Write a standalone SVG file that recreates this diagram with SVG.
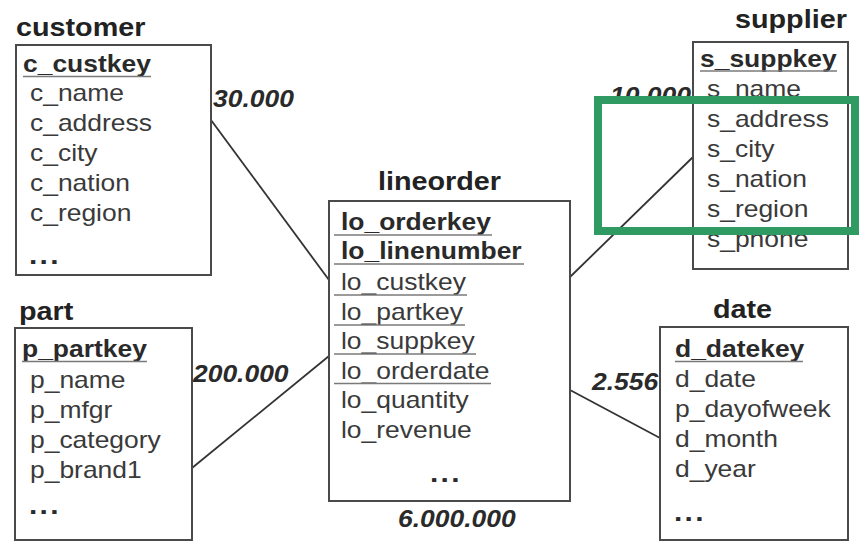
<svg xmlns="http://www.w3.org/2000/svg" width="866" height="549" viewBox="0 0 866 549">
<defs>
<style>
.box{fill:#fff;stroke:#4a4a4a;stroke-width:2}
.t{font-family:"Liberation Sans",Arial,sans-serif;font-weight:bold;font-size:25px;fill:#222}
.k{font-family:"Liberation Sans",Arial,sans-serif;font-weight:bold;font-size:23px;fill:#2a2a2a}
.a{font-family:"Liberation Sans",Arial,sans-serif;font-size:23px;fill:#3a3a3a}
.d{font-family:"Liberation Sans",Arial,sans-serif;font-weight:bold;font-size:26px;fill:#2a2a2a;letter-spacing:2px}
.n{font-family:"Liberation Sans",Arial,sans-serif;font-weight:bold;font-style:italic;font-size:23px;fill:#2a2a2a}
.u{stroke:#7a7a7a;stroke-width:1.6}
.c{stroke:#333;stroke-width:1.8;fill:none}
</style>
<clipPath id="cut10"><rect x="590" y="60" width="110" height="40"/></clipPath>
</defs>
<rect width="866" height="549" fill="#fff"/>

<g id="connectors">
<line class="c" x1="211" y1="120" x2="329" y2="280"/>
<line class="c" x1="192" y1="468" x2="329" y2="356"/>
<line class="c" x1="570" y1="277" x2="693" y2="157"/>
<line class="c" x1="570" y1="390" x2="660" y2="438"/>
</g>

<g id="labels">
<text class="n" transform="translate(213,107) scale(1.15,1)">30.000</text>
<text class="n" transform="translate(193,382) scale(1.15,1)">200.000</text>
<text class="n" transform="translate(592,390) scale(1.15,1)">2.556</text>
<text class="n" transform="translate(398,527) scale(1.15,1)">6.000.000</text>
<g clip-path="url(#cut10)"><text class="n" transform="translate(610,104) scale(1.15,1)">10.000</text></g>
</g>

<g id="customer">
<text class="t" transform="translate(16,36) scale(1.15,1)">customer</text>
<rect class="box" x="16" y="45" width="195" height="230"/>
<text class="k" transform="translate(23,72) scale(1.15,1)">c_custkey</text>
<line class="u" x1="23" y1="76.5" x2="151" y2="76.5"/>
<text class="a" transform="translate(30,101) scale(1.15,1)">c_name</text>
<text class="a" transform="translate(30,131) scale(1.15,1)">c_address</text>
<text class="a" transform="translate(30,161) scale(1.15,1)">c_city</text>
<text class="a" transform="translate(30,191) scale(1.15,1)">c_nation</text>
<text class="a" transform="translate(30,221) scale(1.15,1)">c_region</text>
<text class="d" transform="translate(29,264) scale(1.15,1)">...</text>
</g>

<g id="part">
<text class="t" transform="translate(19,320) scale(1.15,1)">part</text>
<rect class="box" x="15" y="328" width="177" height="212"/>
<text class="k" transform="translate(22,357) scale(1.15,1)">p_partkey</text>
<line class="u" x1="22" y1="361.5" x2="147" y2="361.5"/>
<text class="a" transform="translate(30,388) scale(1.15,1)">p_name</text>
<text class="a" transform="translate(30,418) scale(1.15,1)">p_mfgr</text>
<text class="a" transform="translate(30,448) scale(1.15,1)">p_category</text>
<text class="a" transform="translate(30,478) scale(1.15,1)">p_brand1</text>
<text class="d" transform="translate(29,514) scale(1.15,1)">...</text>
</g>

<g id="lineorder">
<text class="t" transform="translate(378,190) scale(1.15,1)">lineorder</text>
<rect class="box" x="329" y="201" width="241" height="300"/>
<text class="k" transform="translate(341,230) scale(1.15,1)">lo_orderkey</text>
<line class="u" x1="334" y1="235" x2="492" y2="235"/>
<text class="k" transform="translate(341,259) scale(1.15,1)">lo_linenumber</text>
<line class="u" x1="334" y1="264" x2="524" y2="264"/>
<text class="a" transform="translate(341,290) scale(1.15,1)">lo_custkey</text>
<line class="u" x1="334" y1="295" x2="467" y2="295"/>
<text class="a" transform="translate(341,320) scale(1.15,1)">lo_partkey</text>
<line class="u" x1="334" y1="325" x2="465" y2="325"/>
<text class="a" transform="translate(341,349) scale(1.15,1)">lo_suppkey</text>
<line class="u" x1="334" y1="354" x2="476" y2="354"/>
<text class="a" transform="translate(341,379) scale(1.15,1)">lo_orderdate</text>
<line class="u" x1="334" y1="383.5" x2="491" y2="383.5"/>
<text class="a" transform="translate(341,408) scale(1.15,1)">lo_quantity</text>
<text class="a" transform="translate(341,438) scale(1.15,1)">lo_revenue</text>
<text class="d" transform="translate(430,482) scale(1.15,1)">...</text>
</g>

<g id="supplier">
<text class="t" transform="translate(735,28) scale(1.15,1)">supplier</text>
<rect class="box" x="693" y="42" width="155" height="227"/>
<text class="k" transform="translate(700,67) scale(1.15,1)">s_suppkey</text>
<line class="u" x1="700" y1="71" x2="837" y2="71"/>
<text class="a" transform="translate(707,97) scale(1.15,1)">s_name</text>
<text class="a" transform="translate(707,127) scale(1.15,1)">s_address</text>
<text class="a" transform="translate(707,157) scale(1.15,1)">s_city</text>
<text class="a" transform="translate(707,187) scale(1.15,1)">s_nation</text>
<text class="a" transform="translate(707,217) scale(1.15,1)">s_region</text>
<text class="a" transform="translate(707,247) scale(1.15,1)">s_phone</text>
</g>

<g id="date">
<text class="t" transform="translate(713,318) scale(1.15,1)">date</text>
<rect class="box" x="660" y="327" width="188" height="213"/>
<text class="k" transform="translate(675,357) scale(1.15,1)">d_datekey</text>
<line class="u" x1="675" y1="361.5" x2="803" y2="361.5"/>
<text class="a" transform="translate(675,387) scale(1.15,1)">d_date</text>
<text class="a" transform="translate(675,417) scale(1.15,1)">p_dayofweek</text>
<text class="a" transform="translate(675,447) scale(1.15,1)">d_month</text>
<text class="a" transform="translate(675,477) scale(1.15,1)">d_year</text>
<text class="d" transform="translate(674,521) scale(1.15,1)">...</text>
</g>

<g id="highlight">
<rect x="598" y="100" width="257" height="131" fill="none" stroke="#2f9a62" stroke-width="8"/>
</g>
</svg>
